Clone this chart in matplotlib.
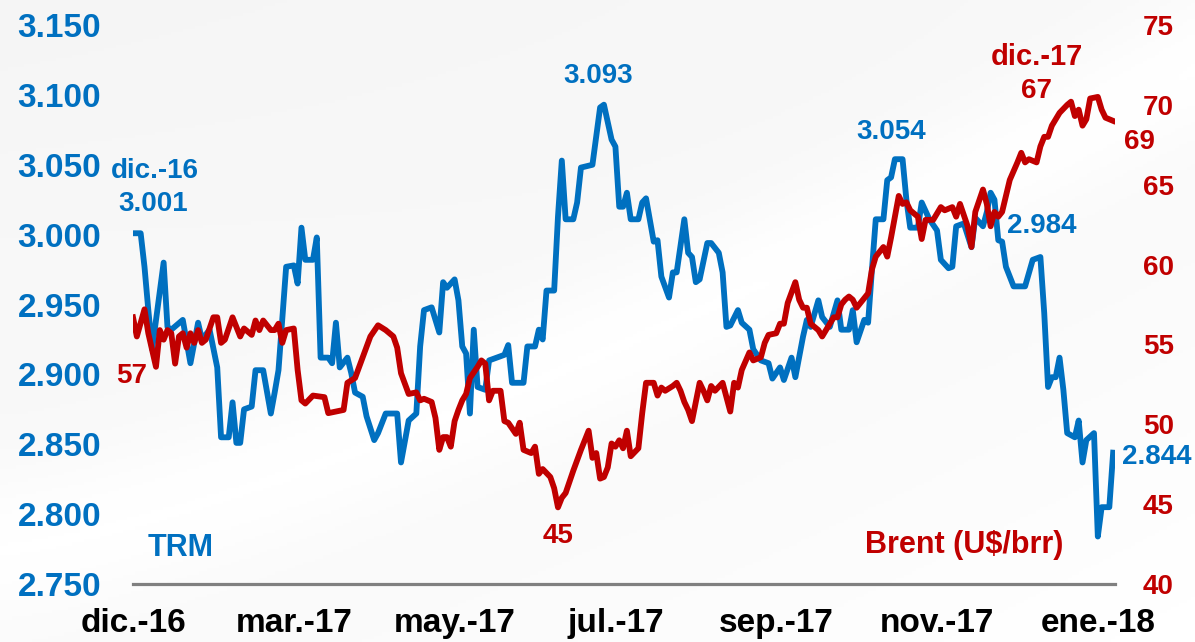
import numpy as np
import matplotlib
matplotlib.use("Agg")
import matplotlib.pyplot as plt

plt.rcParams['font.family'] = ['Liberation Sans', 'DejaVu Sans']
plt.rcParams['font.weight'] = 'bold'

AZUL = '#0070C0'
ROJO = '#C00000'

# TRM (COP/USD), indice de sesion vs valor
trm_idx = [0, 2, 3, 4, 5, 8, 9, 10, 13, 15, 17, 18, 20, 22, 23, 25, 26, 27, 28, 29,
           31, 32, 34, 36, 37, 38, 40, 42, 43, 44, 45, 47, 48, 49, 51, 52, 53, 54, 56, 57,
           58, 60, 61, 63, 64, 66, 69, 70, 72, 74, 75, 76, 78, 80, 81, 82, 84, 85, 86, 87,
           88, 89, 90, 92, 93, 95, 97, 98, 99, 102, 103, 105, 106, 107, 108, 110, 111, 112, 113, 115,
           116, 117, 120, 122, 123, 125, 126, 127, 128, 129, 130, 132, 133, 134, 136, 137, 138, 140, 141, 142,
           144, 145, 146, 147, 148, 150, 151, 153, 154, 155, 156, 158, 159, 161, 162, 164, 166, 167, 169, 170,
           172, 173, 175, 176, 177, 179, 180, 182, 184, 185, 187, 188, 189, 191, 192, 193, 194, 196, 197, 198,
           199, 201, 202, 203, 205, 206, 208, 210, 211, 213, 214, 215, 217, 219, 220, 222, 223, 224, 225, 226,
           227, 228, 230, 233, 235, 237, 238, 239, 240, 241, 242, 243, 244, 246, 247, 248, 249, 251, 252, 253,
           255, 256]
trm_val = [3001, 3001, 2977, 2946, 2918, 2980, 2934, 2932, 2939, 2908, 2937, 2925, 2932, 2905, 2855, 2855, 2880, 2851, 2851, 2875,
           2877, 2903, 2903, 2872, 2887, 2903, 2977, 2978, 2965, 3005, 2982, 2982, 2998, 2912, 2912, 2908, 2937, 2905, 2912, 2901,
           2887, 2884, 2870, 2853, 2858, 2872, 2872, 2837, 2867, 2872, 2920, 2946, 2948, 2930, 2966, 2962, 2968, 2953, 2920, 2915,
           2872, 2932, 2891, 2889, 2910, 2912, 2914, 2921, 2894, 2894, 2920, 2920, 2932, 2925, 2960, 2960, 3013, 3053, 3011, 3011,
           3023, 3048, 3050, 3091, 3093, 3068, 3063, 3020, 3020, 3030, 3011, 3011, 3023, 3026, 2995, 2996, 2970, 2955, 2973, 2973,
           3011, 2987, 2984, 2966, 2968, 2994, 2994, 2987, 2973, 2934, 2935, 2946, 2937, 2932, 2918, 2910, 2908, 2897, 2905, 2896,
           2912, 2898, 2927, 2939, 2934, 2953, 2941, 2934, 2953, 2932, 2932, 2946, 2923, 2939, 2937, 2975, 3011, 3011, 3039, 3041,
           3054, 3054, 3025, 3005, 3005, 3023, 3011, 3003, 2982, 2976, 2977, 3006, 3008, 2991, 3012, 3006, 3016, 3030, 3025, 2996,
           2995, 2977, 2963, 2963, 2982, 2984, 2944, 2891, 2898, 2898, 2912, 2889, 2858, 2855, 2867, 2837, 2853, 2858, 2784, 2805,
           2805, 2844]

# Brent (US$/barril)
brent_idx = [0, 1, 3, 4, 6, 7, 8, 9, 10, 11, 12, 13, 14, 15, 16, 17, 18, 19, 21, 22,
             23, 24, 26, 28, 29, 31, 32, 33, 34, 36, 37, 38, 39, 40, 42, 43, 44, 45, 47, 50,
             51, 53, 55, 56, 58, 60, 62, 64, 66, 68, 69, 70, 72, 74, 75, 76, 78, 79, 80, 81,
             82, 83, 84, 85, 86, 87, 88, 90, 91, 92, 93, 94, 96, 97, 98, 100, 101, 102, 104, 105,
             106, 107, 109, 110, 111, 112, 113, 115, 117, 119, 120, 121, 122, 123, 124, 125, 126, 127, 128, 129,
             130, 132, 133, 134, 136, 137, 138, 139, 141, 142, 143, 144, 145, 146, 148, 149, 150, 151, 152, 154,
             155, 156, 157, 158, 159, 161, 162, 164, 165, 166, 168, 169, 170, 171, 173, 174, 175, 176, 177, 179,
             180, 181, 183, 184, 185, 186, 187, 188, 189, 190, 192, 193, 194, 196, 197, 198, 200, 201, 202, 203,
             205, 206, 207, 209, 211, 212, 214, 215, 216, 217, 218, 219, 220, 222, 223, 224, 225, 226, 227, 228,
             229, 231, 232, 233, 234, 236, 237, 238, 239, 240, 242, 244, 245, 246, 247, 248, 249, 250, 252, 253,
             254, 256]
brent_val = [56.7, 55.5, 57.2, 55.7, 53.6, 55.9, 55.3, 55.9, 55.7, 53.8, 55.5, 55.7, 54.8, 55.7, 55.1, 55.9, 55.1, 55.3, 56.7, 56.7,
             55.1, 55.3, 56.7, 55.5, 56.0, 55.6, 56.5, 55.9, 56.5, 55.9, 55.9, 56.3, 55.1, 55.9, 56.0, 53.4, 51.5, 51.3, 51.8, 51.7,
             50.7, 50.8, 50.9, 52.6, 52.9, 54.2, 55.5, 56.2, 55.9, 55.5, 54.8, 53.2, 51.9, 52.0, 51.5, 51.6, 51.4, 50.4, 48.4, 49.2,
             49.2, 48.6, 50.2, 50.9, 51.5, 51.9, 52.9, 53.6, 54.0, 53.8, 51.5, 52.1, 52.1, 50.2, 50.1, 49.4, 50.1, 48.4, 48.2, 48.6,
             46.9, 47.2, 46.7, 46.0, 44.8, 45.4, 45.7, 47.1, 48.4, 49.6, 47.9, 48.2, 46.6, 46.7, 47.3, 48.8, 48.6, 49.0, 48.5, 49.6,
             48.0, 48.5, 50.7, 52.6, 52.6, 51.8, 52.3, 52.1, 52.4, 52.6, 52.1, 51.4, 50.9, 50.2, 52.6, 52.1, 51.5, 52.4, 52.1, 52.6,
             51.7, 50.8, 52.6, 52.3, 53.4, 54.5, 54.0, 54.2, 55.1, 55.6, 55.7, 56.3, 56.3, 57.6, 58.9, 57.8, 57.3, 57.3, 56.3, 55.9,
             55.5, 55.9, 56.7, 56.7, 57.5, 57.8, 58.0, 57.8, 57.3, 57.6, 58.2, 59.7, 60.5, 61.1, 60.5, 61.7, 64.3, 63.8, 63.9, 63.4,
             63.0, 61.6, 62.8, 62.8, 63.6, 63.4, 63.6, 63.0, 63.8, 63.1, 62.4, 61.1, 63.3, 64.7, 63.8, 62.4, 63.3, 63.0, 63.3, 64.3,
             65.3, 66.4, 67.0, 66.4, 66.6, 66.4, 67.4, 68.0, 68.0, 68.7, 69.5, 70.0, 70.2, 69.3, 69.7, 68.7, 69.1, 70.4, 70.5, 69.7,
             69.2, 69.0]

tick_pos = [0, 42, 84, 126, 168, 210, 252]
tick_lab = ['dic.-16', 'mar.-17', 'may.-17', 'jul.-17', 'sep.-17', 'nov.-17', 'ene.-18']
trm_ticks = [2750, 2800, 2850, 2900, 2950, 3000, 3050, 3100, 3150]
brent_ticks = [40, 45, 50, 55, 60, 65, 70, 75]

fig = plt.figure(figsize=(11.95, 6.42), dpi=100)

# fondo decorativo: gris muy claro arriba a la izquierda, franja blanca diagonal
bg = fig.add_axes([0, 0, 1, 1], zorder=-10)
gx, gy = np.meshgrid(np.linspace(0, 1, 300), np.linspace(0, 1, 200))
d = gy - (0.15 + 0.75 * gx ** 1.3)
shade = 0.975 + 0.025 * np.exp(-(d / 0.12) ** 2) - 0.03 * np.clip((gy - 0.55) * (1 - gx), 0, 1) \
        + 0.03 * np.clip(-d, 0, 1)
shade = np.clip(shade, 0, 1)
bg.imshow(np.dstack([shade] * 3), extent=[0, 1, 0, 1], aspect='auto', origin='lower')
bg.axis('off')

ax = fig.add_axes([0.1113, 0.0903, 0.8218, 0.8707])
ax.patch.set_alpha(0)
ax2 = ax.twinx()
ax2.patch.set_alpha(0)

ax.plot(trm_idx, trm_val, color=AZUL, lw=4.2, solid_joinstyle='round', zorder=3)
ax2.plot(brent_idx, brent_val, color=ROJO, lw=4.2, solid_joinstyle='round', zorder=2)

ax.set_xlim(0, 256.5)
ax.set_ylim(2750, 3150)
ax2.set_ylim(40, 75)

for a in (ax, ax2):
    for s in ('top', 'left', 'right', 'bottom'):
        a.spines[s].set_visible(False)
ax.spines['bottom'].set_visible(True)
ax.spines['bottom'].set_color('#808080')
ax.spines['bottom'].set_linewidth(2.3)

ax.set_xticks(tick_pos)
ax.set_xticklabels(tick_lab, fontsize=24, fontweight='bold', color='black')
ax.set_yticks(trm_ticks)
ax.set_yticklabels([f"{v:,}".replace(",", ".") for v in trm_ticks],
                   fontsize=24, fontweight='bold', color=AZUL)
ax2.set_yticks(brent_ticks)
ax2.set_yticklabels([str(v) for v in brent_ticks], fontsize=20, fontweight='bold', color=ROJO)
ax.tick_params(axis='x', length=0, pad=17)
ax.tick_params(axis='y', length=0, pad=23)
ax2.tick_params(axis='y', length=0, pad=20)

# anotaciones
def nota(a, xy, txt, off, color, size=20, ha='center'):
    a.annotate(txt, xy=xy, xytext=off, textcoords='offset pixels',
               ha=ha, va='center', fontsize=size, fontweight='bold', color=color)

nota(ax, (trm_idx[0], trm_val[0]), '3.001', (20, 29), AZUL)
nota(ax, (trm_idx[0], trm_val[0]), 'dic.-16', (22, 62), AZUL)
nota(ax2, (brent_idx[0], brent_val[0]), '57', (-1, -59), ROJO)
i_max = int(np.argmax(trm_val))
nota(ax, (trm_idx[i_max], trm_val[i_max]), '3.093', (-6, 29), AZUL)
i_min = int(np.argmin(brent_val))
nota(ax2, (brent_idx[i_min], brent_val[i_min]), '45', (0, -29), ROJO)
i_n = trm_idx.index(199)
nota(ax, (trm_idx[i_n], trm_val[i_n]), '3.054', (-4, 27), AZUL)
i_d = trm_idx.index(237)
nota(ax, (trm_idx[i_d], trm_val[i_d]), '2.984', (1, 31), AZUL)
i_b = brent_idx.index(236)
nota(ax2, (brent_idx[i_b], brent_val[i_b]), '67', (0, 71), ROJO)
nota(ax2, (brent_idx[i_b], brent_val[i_b]), 'dic.-17', (0, 105), ROJO, size=21)
nota(ax2, (brent_idx[-1], brent_val[-1]), '69', (26, -21), ROJO)
nota(ax, (trm_idx[-1], trm_val[-1]), '2.844', (9, -4), AZUL, ha='left')

ax.text(0.049, 0.064, 'TRM', transform=ax.transAxes, ha='center', va='center',
        fontsize=22, fontweight='bold', color=AZUL)
ax.text(0.846, 0.07, 'Brent (U$/brr)', transform=ax.transAxes, ha='center', va='center',
        fontsize=22, fontweight='bold', color=ROJO)

fig.savefig('out.png', dpi=100)
